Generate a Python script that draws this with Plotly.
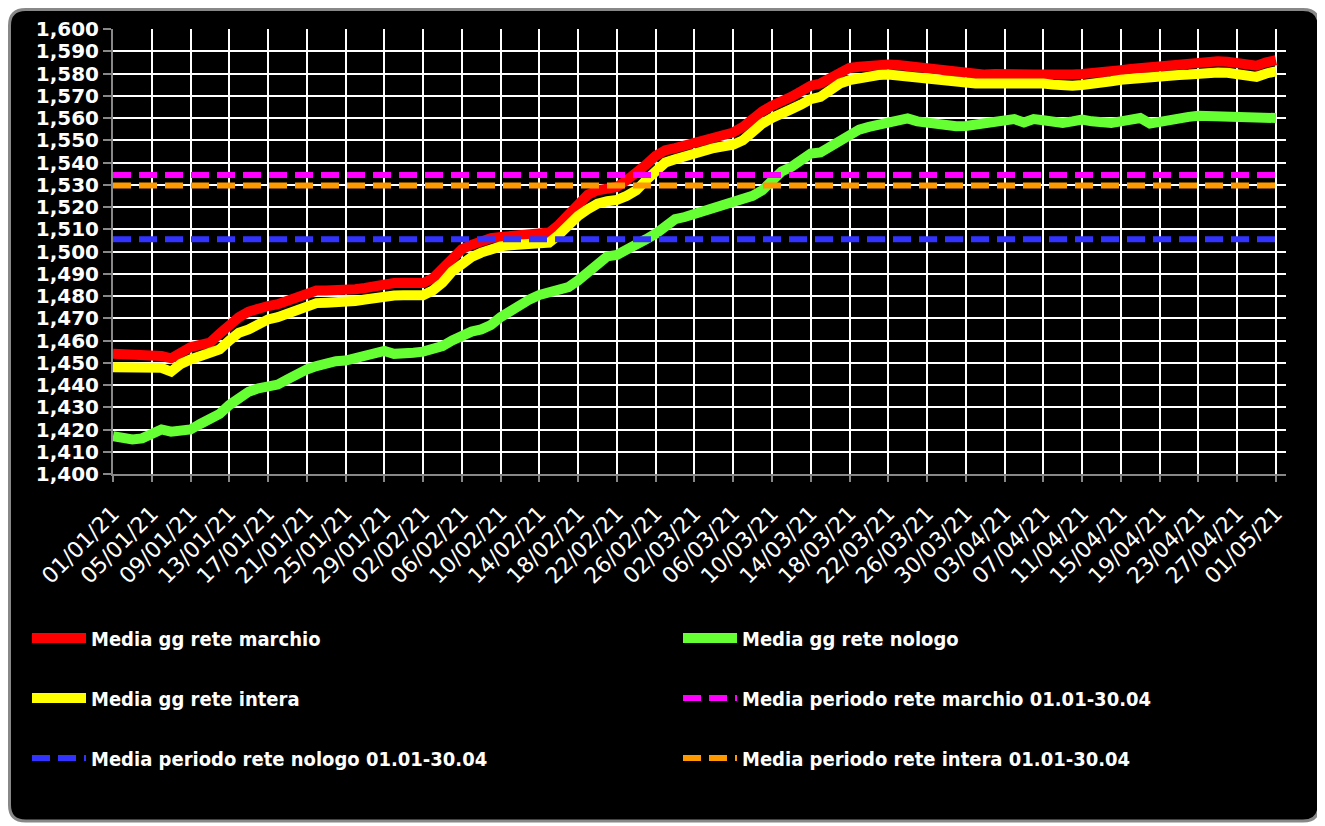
import pandas as pd
import plotly.graph_objects as go

# ---- data -----------------------------------------------------------
dates = pd.date_range("2021-01-01", "2021-05-01", freq="D")

media_marchio = [
    1454, 1454, 1453.5, 1453, 1453.5, 1453, 1452, 1455, 1457, 1458,
    1459, 1463, 1467, 1470.5, 1473, 1474.5, 1475.5, 1476.3, 1478, 1479.5,
    1481, 1482.5, 1482.5, 1482.3, 1482.5, 1483, 1483.6, 1484.5, 1485.5, 1485.8,
    1486, 1486, 1485.8, 1488, 1492, 1497, 1501, 1503, 1505, 1506,
    1506.5, 1507, 1507.3, 1507.5, 1508, 1508.5, 1512, 1517, 1521, 1525.5,
    1527.5, 1528, 1529, 1532, 1535, 1539, 1543, 1545.5, 1546.5, 1547.5,
    1549, 1550.5, 1551, 1552, 1553.5, 1556, 1560, 1563, 1565.5, 1567,
    1569.5, 1572, 1574.5, 1575.5, 1578, 1580.5, 1582.5, 1583, 1583.5, 1584,
    1584, 1583.8, 1583.3, 1582.5, 1582, 1581.5, 1581, 1580.5, 1580, 1579.5,
    1579.5, 1579.8, 1580, 1580, 1579.8, 1579.5, 1579.5, 1579.3, 1579, 1579.5,
    1579.8, 1580, 1580.3, 1580.5, 1581.5, 1582, 1582.5, 1583, 1583, 1583.3,
    1583.5, 1584, 1585, 1585.5, 1585.5, 1585.3, 1585, 1584.5, 1583.5, 1585,
    1586,
]

media_intera = [
    1448, 1448, 1447, 1447.5, 1448, 1447.7, 1446, 1449.5, 1451.5, 1453,
    1453.5, 1456, 1460, 1463.5, 1465, 1467.5, 1469.5, 1470.5, 1472, 1474,
    1475.5, 1476.8, 1477, 1477, 1477.2, 1477.8, 1478.4, 1479.3, 1480, 1480.2,
    1480.3, 1480.2, 1480.3, 1482.5, 1486, 1491, 1495, 1497.5, 1499.5, 1501.5,
    1502.3, 1502.8, 1503, 1503.3, 1503.6, 1504, 1507.5, 1512, 1516, 1519,
    1521.5, 1522.6, 1523.2, 1525, 1527.5, 1532, 1536.5, 1540, 1541.5, 1543,
    1544.5, 1545.5, 1546.5, 1547.3, 1548, 1550, 1554.5, 1557.5, 1560, 1561.5,
    1564, 1566, 1568.5, 1569.5, 1572.5, 1575.5, 1577, 1578, 1578.5, 1579.3,
    1579.5, 1579, 1578.2, 1577.5, 1577, 1576.5, 1576, 1575.8, 1575.6, 1575.5,
    1575.5, 1575.6, 1575.7, 1575.7, 1575.6, 1575.5, 1575.5, 1575, 1574.5, 1574.5,
    1574.8, 1575, 1575.5, 1576.5, 1577.2, 1577.7, 1578, 1578.3, 1578.5, 1579,
    1579.3, 1579.5, 1580.2, 1580.5, 1580.5, 1580.3, 1580, 1579.5, 1578.5, 1580,
    1581,
]

media_nologo = [
    1417, 1416, 1415.5, 1416, 1417.5, 1420, 1419, 1419, 1420, 1422.5,
    1424.5, 1427, 1431, 1434, 1437, 1438.5, 1439.5, 1440.2, 1442.5, 1445,
    1447, 1448.5, 1450, 1450.7, 1451, 1452, 1453.5, 1454, 1455.3, 1454,
    1453.7, 1454.5, 1455, 1456, 1457.5, 1460, 1462.5, 1464, 1465, 1467,
    1470.5, 1473.5, 1476, 1478.5, 1480.5, 1481.5, 1482, 1484, 1487, 1490.5,
    1495, 1497.8, 1498.5, 1500.5, 1503, 1505.5, 1508, 1512, 1514.5, 1515.5,
    1516.8, 1518.5, 1520.3, 1521.5, 1522.5, 1523.5, 1525, 1527.5, 1532, 1536,
    1538, 1541, 1544, 1544.5, 1547, 1550, 1552.5, 1554.8, 1556, 1557,
    1558, 1559.5, 1559.8, 1558.5, 1557.8, 1557, 1556.5, 1556.3, 1556.4, 1557,
    1557.8, 1558.2, 1558.5, 1559.5, 1558, 1559.5, 1559, 1558, 1557.8, 1558.5,
    1559.3, 1558.5, 1558, 1557.8, 1558.5, 1559.5, 1560, 1557.5, 1558.5, 1559.5,
    1560, 1560.5, 1561, 1561, 1561, 1561, 1560.8, 1560.5, 1560, 1560,
    1560,
]

periodo_marchio = 1534.4
periodo_nologo = 1505.5
periodo_intera = 1529.7

# ---- layout geometry (pixels; page has an 8px body margin) -------------
W, H = 1325, 826
OFF = 8
ML, MR, MT, MB = 105, 47, 21, 360
PW, PH = W - ML - MR, H - MT - MB


def px_x(page_x):
    return (page_x - OFF - ML) / PW


def px_y(page_y):
    return (H - MB - (page_y - OFF)) / PH


fig = go.Figure()

solid = dict(mode="lines", hoverinfo="skip")
fig.add_trace(go.Scatter(x=dates, y=media_marchio, name="Media gg rete marchio",
                         line=dict(color="#FF0000", width=10), legend="legend", **solid))
fig.add_trace(go.Scatter(x=dates, y=media_nologo, name="Media gg rete nologo",
                         line=dict(color="#66FF33", width=10), legend="legend2", **solid))
fig.add_trace(go.Scatter(x=dates, y=media_intera, name="Media gg rete intera",
                         line=dict(color="#FFFF00", width=10), legend="legend3", **solid))
fig.add_trace(go.Scatter(x=dates, y=[periodo_marchio] * len(dates),
                         name="Media periodo rete marchio 01.01-30.04",
                         line=dict(color="#FF00FF", width=6, dash="18px,8px"),
                         legend="legend4", **solid))
fig.add_trace(go.Scatter(x=dates, y=[periodo_nologo] * len(dates),
                         name="Media periodo rete nologo 01.01-30.04",
                         line=dict(color="#3333FF", width=6, dash="18px,8px"),
                         legend="legend5", **solid))
fig.add_trace(go.Scatter(x=dates, y=[periodo_intera] * len(dates),
                         name="Media periodo rete intera 01.01-30.04",
                         line=dict(color="#FF9900", width=6, dash="18px,8px"),
                         legend="legend6", **solid))

# rounded black chart area background
x0, x1 = px_x(9.5), px_x(1319)
y0, y1 = px_y(821), px_y(9.5)
rx, ry = 16 / PW, 16 / PH
path = (f"M {x0+rx},{y1} L {x1-rx},{y1} Q {x1},{y1} {x1},{y1-ry} "
        f"L {x1},{y0+ry} Q {x1},{y0} {x1-rx},{y0} L {x0+rx},{y0} "
        f"Q {x0},{y0} {x0},{y0+ry} L {x0},{y1-ry} Q {x0},{y1} {x0+rx},{y1} Z")
fig.add_shape(type="path", path=path, xref="paper", yref="paper",
              fillcolor="black", line=dict(color="#888888", width=3), layer="below")

legend_font = dict(family="DejaVu Sans Condensed, DejaVu Sans, sans-serif",
                   size=20, color="white", weight="bold")
leg_common = dict(orientation="v", xanchor="left", yanchor="middle", itemwidth=54,
                  font=legend_font, bgcolor="rgba(0,0,0,0)",
                  itemclick=False, itemdoubleclick=False)
col1, col2 = 27, 678
row1, row2, row3 = 638, 698, 758

fig.update_layout(
    width=W, height=H,
    margin=dict(l=ML, r=MR, t=MT, b=MB, autoexpand=False),
    paper_bgcolor="white",
    plot_bgcolor="black",
    showlegend=True,
    legend=dict(x=px_x(col1), y=px_y(row1), **leg_common),
    legend2=dict(x=px_x(col2), y=px_y(row1), **leg_common),
    legend3=dict(x=px_x(col1), y=px_y(row2), **leg_common),
    legend4=dict(x=px_x(col2), y=px_y(row2), **leg_common),
    legend5=dict(x=px_x(col1), y=px_y(row3), **leg_common),
    legend6=dict(x=px_x(col2), y=px_y(row3), **leg_common),
    xaxis=dict(
        type="date",
        range=["2021-01-01", "2021-05-02 01:00"],
        tick0="2021-01-01", dtick=4 * 86400000,
        tickformat="%d/%m/%y", tickangle=-45,
        tickfont=dict(family="DejaVu Sans, sans-serif", size=22, color="white"),
        ticklabelstandoff=10,
        showgrid=True, gridcolor="white", gridwidth=2,
        showline=True, linecolor="#888888", linewidth=2,
        ticks="outside", ticklen=6, tickcolor="#888888", tickwidth=2,
        zeroline=False,
    ),
    yaxis=dict(
        range=[1400, 1600], dtick=10, tickformat=",",
        tickfont=dict(family="DejaVu Sans, sans-serif", size=20, color="white", weight="bold"),
        showgrid=True, gridcolor="white", gridwidth=2,
        showline=True, linecolor="#888888", linewidth=2,
        ticks="outside", ticklen=8, tickcolor="#888888", tickwidth=2,
        zeroline=False,
    ),
)

fig.write_html("out.html")
